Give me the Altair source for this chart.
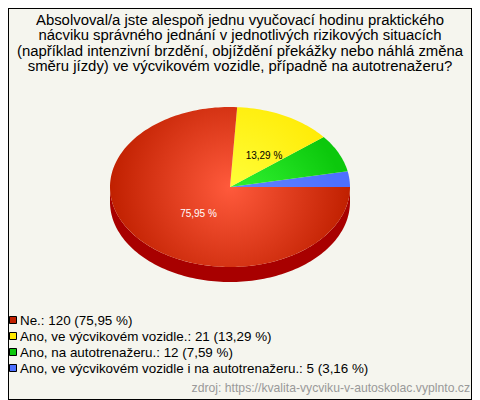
import altair as alt
import numpy as np
import pandas as pd

title_lines = [
    "Absolvoval/a jste alespoň jednu vyučovací hodinu praktického",
    "nácviku správného jednání v jednotlivých rizikových situacích",
    "(například intenzivní brzdění, objíždění překážky nebo náhlá změna",
    "směru jízdy) ve výcvikovém vozidle, případně na autotrenažeru?",
]
categories = ["Ne.", "Ano, ve výcvikovém vozidle.", "Ano, na autotrenažeru.",
              "Ano, ve výcvikovém vozidle i na autotrenažeru."]
counts = [120, 21, 12, 5]
percents = ["75,95", "13,29", "7,59", "3,16"]
edge_colors = ["#c02000", "#ffe900", "#0cc80c", "#4d70ff"]
center_colors = ["#ff5a3c", "#ffff3c", "#3cff3c", "#6c90ff"]
source = "zdroj: https://kvalita-vycviku-v-autoskolac.vyplnto.cz"

W, H = 464, 392
OFF = 8
CX, CY, RX, RY, DEPTH = 230 - OFF, 187 - OFF, 120, 80, 15
BG = "#f5f5ee"

X = alt.X("x:Q", scale=alt.Scale(domain=[0, W], range=[0, W]), axis=None)
Y = alt.Y("y:Q", scale=alt.Scale(domain=[0, H], range=[0, H]), axis=None)
share = np.array(counts) / sum(counts)


def poly(xs, ys):
    return pd.DataFrame({"x": xs, "y": ys, "o": range(len(xs))})


def shape(df, fill):
    return alt.Chart(df).mark_line(fill=fill, stroke=None, strokeWidth=0, clip=False).encode(
        x=X, y=Y, order="o:Q")


def radial(df, inner, outer):
    x0, x1, y0, y1 = df.x.min(), df.x.max(), df.y.min(), df.y.max()
    bw, bh = x1 - x0, y1 - y0
    fx, fy = (CX - x0) / bw, (CY - y0) / bh
    return alt.RadialGradient(
        gradient="radial", x1=fx, y1=fy, r1=0, x2=fx, y2=fy, r2=RX / bw,
        stops=[alt.GradientStop(offset=0, color=inner), alt.GradientStop(offset=1, color=outer)])


layers = []
bg = pd.DataFrame({"x": [0], "x2": [W], "y": [0], "y2": [H]})
layers.append(alt.Chart(bg).mark_rect(fill=BG, stroke="#000000", strokeWidth=2).encode(
    x=X, x2="x2:Q", y=Y, y2="y2:Q"))

# side of the pie, follows the lower half of the ellipse
t = np.radians(np.linspace(0, 180, 121))
rim = poly(np.r_[CX + RX * np.cos(t), CX + RX * np.cos(t[::-1])],
           np.r_[CY + DEPTH + RY * np.sin(t), CY + RY * np.sin(t[::-1])])
layers.append(shape(rim, "#a80000"))

# slices go counter-clockwise from 3 o'clock, last category first
cum = 0.0
slices = []
for i in [3, 2, 1, 0]:
    a0, a1 = cum * 2 * np.pi, (cum + share[i]) * 2 * np.pi
    cum += share[i]
    a = np.linspace(a0, a1, max(6, int(share[i] * 240)))
    df = poly(np.r_[CX, CX + RX * np.cos(a)], np.r_[CY, CY - RY * np.sin(a)])
    slices.append((i, df))
for i, df in slices:
    layers.append(shape(df, radial(df, center_colors[i], edge_colors[i])))


def text(rows, **kw):
    return alt.Chart(pd.DataFrame(rows)).mark_text(font="Liberation Sans", **kw).encode(
        x=X, y=Y, text="t:N")


layers.append(text({"x": [240 - OFF] * 4, "y": [y - OFF for y in (25, 40, 55.5, 70.5)],
                    "t": title_lines}, fontSize=14.9, align="center", baseline="alphabetic", color="#000000"))
layers.append(text({"x": [198.5 - OFF], "y": [217 - OFF], "t": [percents[0] + " %"]},
                   fontSize=10, align="center", baseline="alphabetic", color="#ffffff"))
layers.append(text({"x": [264 - OFF], "y": [159 - OFF], "t": [percents[1] + " %"]},
                   fontSize=10, align="center", baseline="alphabetic", color="#000000"))

ly = [320 - OFF + 16 * i for i in range(4)]
swatch = pd.DataFrame({"x": [13 - OFF] * 4, "y": ly, "c": categories})
layers.append(alt.Chart(swatch).mark_square(size=49, opacity=1, stroke="#000000", strokeWidth=1).encode(
    x=X, y=Y,
    fill=alt.Fill("c:N", scale=alt.Scale(domain=categories, range=edge_colors), legend=None)))
labels = [f"{c}: {n} ({p} %)" for c, n, p in zip(categories, counts, percents)]
layers.append(text({"x": [20 - OFF] * 4, "y": [y + 4.5 for y in ly], "t": labels},
                   fontSize=13.4, align="left", baseline="alphabetic", color="#000000"))
layers.append(text({"x": [470 - OFF], "y": [392 - OFF], "t": [source]},
                   fontSize=12.2, align="right", baseline="alphabetic", color="#999999"))

chart = alt.layer(*layers).properties(
    width=W, height=H, padding=0, background=BG,
    autosize=alt.AutoSizeParams(type="none"),
).configure_view(stroke=None)

chart.save("out.html", embed_options={"renderer": "svg", "actions": False})
